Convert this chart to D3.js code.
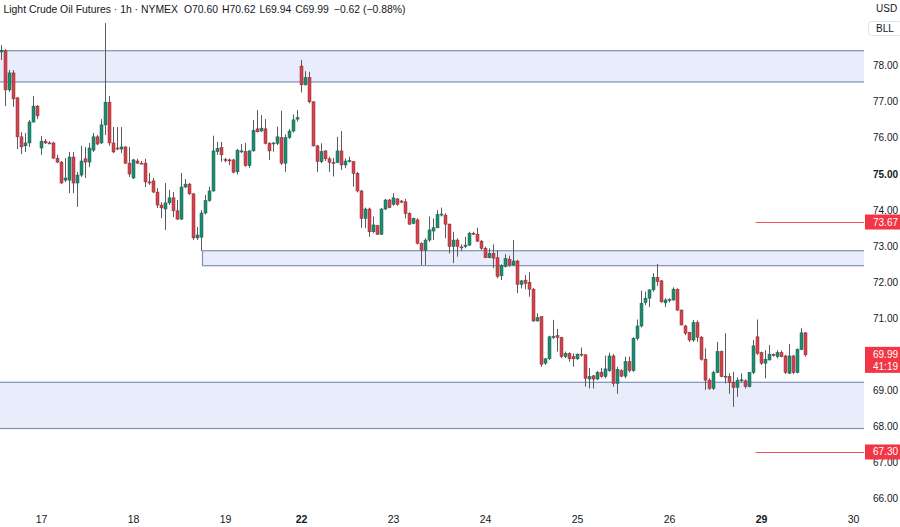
<!DOCTYPE html>
<html><head><meta charset="utf-8">
<script src="https://cdn.jsdelivr.net/npm/d3@7"></script>
<style>
html,body{margin:0;padding:0;background:#fff;}
svg{display:block;}
text{font-family:"Liberation Sans",Arial,sans-serif;}
</style></head><body>
<svg id="chart" width="900" height="527"></svg>
<script>
// ---- DATA (hourly bars) ----
const opens = [78.38,78.41,77.33,77.80,77.11,76.03,75.78,75.86,76.44,76.88,
75.72,75.91,75.86,75.86,75.44,75.33,74.83,74.83,75.47,74.75,
74.97,75.42,75.33,75.66,76.03,75.86,76.36,76.99,75.86,75.72,
75.69,75.75,75.30,74.89,75.36,75.30,75.30,74.78,74.81,74.50,
74.14,74.03,74.20,74.34,73.98,73.75,74.64,74.72,74.45,73.23,
73.25,73.92,74.26,74.53,75.62,75.73,75.40,75.39,75.39,75.06,
75.64,75.62,75.23,75.64,76.25,76.19,76.25,75.85,75.85,75.85,
76.01,75.30,76.01,76.19,76.52,77.99,77.47,77.67,77.00,75.78,
75.34,75.64,75.42,75.32,75.32,75.64,75.25,75.36,75.34,75.02,
74.53,73.77,74.03,73.40,73.57,73.33,74.03,74.28,74.16,74.31,
74.25,74.23,73.91,73.63,73.73,73.08,72.89,73.17,73.42,73.51,
73.88,73.86,73.61,72.99,73.17,72.98,72.99,73.03,73.36,73.33,
73.14,72.94,72.68,72.80,72.68,72.18,72.44,72.64,72.48,72.59,
71.94,72.06,72.00,71.81,70.93,71.05,69.76,69.88,70.49,70.52,
70.47,69.94,70.03,69.94,69.88,70.01,69.99,69.32,69.41,69.32,
69.51,69.39,69.55,69.96,69.20,69.55,69.40,69.80,69.55,70.45,
70.79,71.44,71.56,71.79,72.14,72.04,71.43,71.51,71.51,71.81,
71.23,70.79,70.61,70.40,70.88,70.48,69.87,69.29,69.06,69.50,
70.08,69.39,69.39,69.22,69.09,69.29,69.27,69.11,69.50,70.49,
70.05,69.76,69.85,70.00,69.94,70.05,69.96,69.48,69.96,69.50,
70.14,70.60];
const highs = [78.57,78.46,77.88,77.88,77.13,76.16,76.14,76.50,77.16,76.91,
76.05,75.97,75.91,75.89,75.53,75.36,75.44,75.61,75.61,75.06,
75.78,75.75,75.86,76.14,76.08,76.52,79.18,77.16,76.30,76.30,
76.30,75.77,75.75,75.42,75.42,75.36,75.42,75.03,74.89,74.61,
74.22,74.75,74.56,74.50,74.28,75.03,74.86,74.75,74.47,73.53,
74.00,74.42,74.65,76.06,75.89,75.89,75.45,75.43,75.42,75.69,
75.83,75.86,75.66,76.50,76.77,76.63,76.52,75.88,75.88,76.31,
76.75,76.10,76.25,76.65,76.77,78.16,77.85,77.83,77.02,75.80,
75.85,75.66,75.48,75.45,76.03,76.19,75.43,75.48,75.36,75.06,
74.56,74.07,74.07,73.82,73.59,74.06,74.31,74.31,74.47,74.33,
74.28,74.31,73.94,73.79,73.77,73.11,73.22,73.82,73.77,74.00,
74.07,73.91,73.63,73.40,73.22,73.05,73.26,73.40,73.40,73.51,
73.17,72.99,72.94,73.05,72.89,72.50,72.78,72.74,73.17,72.62,
72.06,72.20,72.28,71.84,71.14,71.05,69.90,70.52,70.96,70.71,
70.49,70.08,70.06,70.03,70.03,70.19,70.01,69.63,69.43,69.54,
69.63,69.97,70.05,70.01,69.66,69.59,69.94,69.94,70.48,70.97,
71.77,71.74,71.81,72.25,72.51,72.06,71.56,71.56,71.86,71.83,
71.25,70.82,70.63,70.96,70.94,70.51,70.17,69.34,69.55,70.35,
70.11,70.59,69.48,69.52,69.37,69.48,69.31,69.52,70.40,70.97,
70.08,70.12,70.26,70.03,70.12,70.11,69.99,70.29,69.99,70.17,
70.73,70.62];
const lows = [78.16,76.88,77.27,76.86,75.69,75.55,75.61,75.75,76.42,76.52,
75.53,75.83,75.83,75.42,75.30,74.73,74.78,74.47,74.47,74.09,
74.92,74.89,75.19,75.61,75.80,75.83,76.08,75.78,75.58,75.66,
75.58,75.28,74.92,74.86,75.28,75.28,74.64,74.70,74.47,74.06,
73.78,73.45,74.14,73.81,73.73,73.73,74.61,74.42,73.17,73.17,
72.87,73.88,74.23,74.51,75.53,75.34,75.32,75.25,75.02,74.99,
75.58,75.20,75.17,75.62,76.15,76.17,75.82,75.39,75.62,75.80,
75.25,75.06,75.97,76.15,76.45,77.26,77.45,76.96,75.76,75.05,
75.30,75.36,75.06,74.93,75.30,75.11,75.16,75.32,74.65,74.49,
73.51,73.50,73.26,73.36,73.31,73.31,74.00,74.05,74.12,74.12,
74.19,73.77,73.59,73.61,73.05,72.48,72.48,73.12,73.17,73.50,
73.82,73.22,72.80,72.53,72.71,72.87,72.94,73.01,73.31,73.12,
72.89,72.67,72.67,72.39,72.11,72.06,72.41,72.43,72.46,71.70,
71.83,71.81,71.60,70.90,70.91,69.66,69.71,69.85,70.43,70.08,
69.90,69.90,69.80,69.66,69.85,69.94,69.11,69.06,69.06,69.29,
69.36,69.34,69.52,69.11,68.91,69.37,69.34,69.50,69.52,70.39,
70.75,71.37,71.31,71.74,71.90,71.43,71.31,71.44,71.49,71.21,
70.80,70.54,70.35,70.35,70.35,69.83,69.02,69.02,69.02,69.48,
69.37,69.20,68.91,68.55,68.83,69.22,69.06,69.09,69.46,69.99,
69.71,69.34,69.83,69.94,69.89,69.92,69.46,69.46,69.46,69.48,
70.12,69.94];
const closes = [78.43,77.33,77.80,77.08,76.03,75.75,75.86,76.44,76.88,76.61,
75.91,75.86,75.85,75.44,75.33,74.75,74.89,75.47,74.75,74.97,
75.36,75.33,75.72,76.03,75.83,76.36,76.99,75.86,75.61,75.71,
75.75,75.30,75.00,75.39,75.30,75.29,74.78,74.75,74.50,74.14,
74.06,74.20,74.34,73.98,73.75,74.64,74.72,74.45,73.23,73.31,
73.92,74.26,74.53,75.64,75.71,75.53,75.39,75.36,75.05,75.66,
75.64,75.23,75.64,76.21,76.17,76.27,75.85,75.64,75.86,76.03,
75.30,76.01,76.19,76.50,76.56,77.47,77.67,77.00,75.78,75.34,
75.62,75.42,75.32,75.31,75.64,75.25,75.36,75.37,75.02,74.53,
73.77,74.03,73.40,73.59,73.33,74.03,74.28,74.07,74.34,74.16,
74.22,73.91,73.61,73.77,73.08,72.89,73.17,73.45,73.51,73.88,
73.89,73.61,72.99,73.17,72.99,72.97,73.03,73.36,73.33,73.14,
72.94,72.68,72.80,72.67,72.16,72.46,72.66,72.48,72.59,71.94,
72.04,71.97,71.81,70.93,71.02,69.73,69.88,70.49,70.50,70.47,
69.94,70.03,69.88,69.88,70.01,69.99,69.34,69.39,69.32,69.51,
69.39,69.60,69.96,69.20,69.59,69.40,69.80,69.55,70.45,70.79,
71.42,71.56,71.79,72.14,72.02,71.46,71.51,71.52,71.81,71.23,
70.82,70.59,70.40,70.88,70.48,69.87,69.29,69.06,69.50,70.08,
69.39,69.40,69.22,69.09,69.29,69.30,69.11,69.50,70.24,70.03,
69.76,69.87,70.01,69.99,70.05,69.94,69.50,69.96,69.50,70.14,
70.60,69.99];

const dayTickBars   = [10, 33, 56, 75, 98, 121, 144, 167, 190, 213];
const dayTickLabels = ["17","18","19","22","23","24","25","26","29","30"];
const weekStartLabels = ["22","29"];

const priceTicks = [66,67,68,69,70,71,72,73,74,75,76,77,78];
const emphasizedTicks = [75];

const zoneTops      = [78.415, 72.875, 69.23];
const zoneBottoms   = [77.55, 72.46, 67.95];
const zoneStartBars = [-20, 50, -20];

const priceLineLevels = [73.67, 67.30];
const priceLineStartBar = 188.5;

const lastPrice = 69.99;
const countdown = "41:19";
const headerParts = ["Light Crude Oil Futures · 1h · NYMEX","O70.60","H70.62","L69.94","C69.99","−0.62 (−0.88%)"];
const currency = "USD", unit = "BLL";

// ---- LAYOUT ----
const plotRight = 864;
const svg = d3.select("#chart");
const x = d3.scaleLinear().domain([0, 201]).range([1.5, 805.5]);
const y = d3.scaleLinear().domain([66, 78]).range([498.9, 65.7]);

const RED = "#f23645";
const upFill = "#1e8c72", upStroke = "#155e4e";
const dnFill = "#d2434c", dnStroke = "#8e2a31";
const wickCol = "#5b5b5b";
const TXT = "#131722";

svg.append("defs").append("clipPath").attr("id","plotclip")
  .append("rect").attr("x",0).attr("y",0).attr("width",plotRight).attr("height",506);

const plot = svg.append("g").attr("clip-path","url(#plotclip)");

// zones
const zones = zoneTops.map((t,i)=>({top:t,bot:zoneBottoms[i],start:zoneStartBars[i]}));
plot.selectAll("rect.zone").data(zones).join("rect").attr("class","zone")
  .attr("x", d=>Math.round(x(d.start))+0.5)
  .attr("y", d=>y(d.top))
  .attr("width", d=>plotRight+10-x(d.start))
  .attr("height", d=>y(d.bot)-y(d.top))
  .attr("fill","#e9ecfa")
  .attr("stroke","#7f90b9").attr("stroke-width",1.2);

// candles
const bars = opens.map((o,i)=>({i,o,h:highs[i],l:lows[i],c:closes[i]}));
const cg = plot.append("g");
cg.selectAll("line.wick").data(bars).join("line").attr("class","wick")
  .attr("x1",d=>x(d.i)).attr("x2",d=>x(d.i))
  .attr("y1",d=>y(d.h)).attr("y2",d=>y(d.l))
  .attr("stroke",wickCol).attr("stroke-width",1);
cg.selectAll("rect.body").data(bars).join("rect").attr("class","body")
  .attr("x",d=>x(d.i)-1.5)
  .attr("width",3)
  .attr("y",d=>y(Math.max(d.o,d.c)))
  .attr("height",d=>Math.max(1, y(Math.min(d.o,d.c))-y(Math.max(d.o,d.c))))
  .attr("fill",d=>d.c>=d.o?upFill:dnFill)
  .attr("stroke",d=>d.c>=d.o?upStroke:dnStroke)
  .attr("stroke-width",0.5);

// price lines
svg.selectAll("line.pl").data(priceLineLevels).join("line").attr("class","pl")
  .attr("x1",x(priceLineStartBar)).attr("x2",plotRight)
  .attr("y1",d=>Math.round(y(d))+0.5).attr("y2",d=>Math.round(y(d))+0.5)
  .attr("stroke",RED).attr("stroke-width",1).attr("opacity",0.85);

// y axis labels
const fmt = d3.format(".2f");
const AXF = 10;
svg.selectAll("text.yt").data(priceTicks).join("text").attr("class","yt")
  .attr("x",873).attr("y",d=>y(d)).attr("dy","0.35em")
  .attr("font-size",AXF).attr("fill",TXT)
  .attr("font-weight",d=>emphasizedTicks.includes(d)?"bold":"normal")
  .text(d=>fmt(d));

// price label boxes
priceLineLevels.forEach(p=>{
  const yy = y(p);
  svg.append("rect").attr("x",865).attr("y",yy-7.5).attr("width",35).attr("height",15).attr("fill",RED);
  svg.append("text").attr("x",873).attr("y",yy).attr("dy","0.35em").attr("font-size",AXF)
    .attr("fill","#fff").text(fmt(p));
});
{
  const yy = y(lastPrice);
  svg.append("rect").attr("x",865).attr("y",yy-8).attr("width",35).attr("height",26).attr("fill",RED);
  svg.append("text").attr("x",873).attr("y",yy).attr("dy","0.35em").attr("font-size",AXF)
    .attr("fill","#fff").text(fmt(lastPrice));
  svg.append("text").attr("x",873).attr("y",yy+12).attr("dy","0.35em").attr("font-size",AXF)
    .attr("fill","#fff").text(countdown);
}

// x axis labels
svg.selectAll("text.xt").data(dayTickBars).join("text").attr("class","xt")
  .attr("x",d=>x(d)).attr("y",519).attr("dy","0.35em").attr("text-anchor","middle")
  .attr("font-size",10.5).attr("fill",TXT)
  .attr("font-weight",(d,i)=>weekStartLabels.includes(dayTickLabels[i])?"bold":"normal")
  .text((d,i)=>dayTickLabels[i]);

// currency / unit
svg.append("text").attr("x",876).attr("y",8.5).attr("dy","0.35em").attr("font-size",AXF).attr("fill",TXT).text(currency);
svg.append("rect").attr("x",868.5).attr("y",21.5).attr("width",34).attr("height",14).attr("rx",3)
  .attr("fill","none").attr("stroke","#e0e3eb");
svg.append("text").attr("x",876).attr("y",28.5).attr("dy","0.35em").attr("font-size",AXF).attr("fill",TXT).text(unit);

// header: pieces laid out one after another
const hdr = svg.append("g").attr("font-size",10.4).attr("fill",TXT);
const gaps = [0, 6, 4, 4, 4, 5];
let cx = 3.5;
headerParts.forEach((s,i)=>{
  cx += gaps[i];
  const t = hdr.append("text").attr("x",cx).attr("y",12.5).text(s);
  cx += t.node().getComputedTextLength();
});
</script>
</body></html>
